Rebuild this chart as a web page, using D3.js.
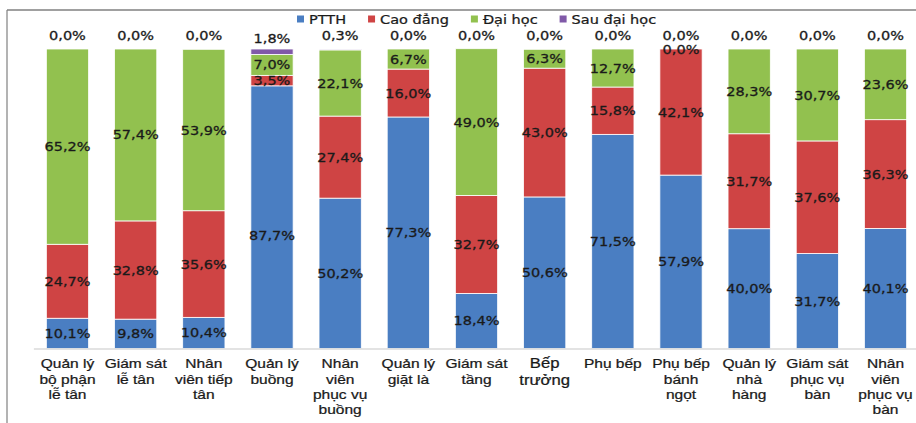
<!DOCTYPE html>
<html>
<head>
<meta charset="utf-8">
<script src="https://cdn.jsdelivr.net/npm/d3@7"></script>
<style>
  html, body { margin: 0; padding: 0; background: #fff; }
  svg { display: block; font-family: "DejaVu Sans", Verdana, sans-serif; }
</style>
</head>
<body>
<svg id="chart" width="916" height="423"></svg>
<script>
// Trình độ học vấn theo vị trí công việc (%)
const categories = [
  "Quản lý\nbộ phận\nlễ tân",
  "Giám sát\nlễ tân",
  "Nhân\nviên tiếp\ntân",
  "Quản lý\nbuồng",
  "Nhân\nviên\nphục vụ\nbuồng",
  "Quản lý\ngiặt là",
  "Giám sát\ntầng",
  "Bếp\ntrưởng",
  "Phụ bếp",
  "Phụ bếp\nbánh\nngọt",
  "Quản lý\nnhà\nhàng",
  "Giám sát\nphục vụ\nbàn",
  "Nhân\nviên\nphục vụ\nbàn"
];
const seriesNames = ["PTTH", "Cao đẳng", "Đại học", "Sau đại học"];
const ptth      = [10.1, 9.8, 10.4, 87.7, 50.2, 77.3, 18.4, 50.6, 71.5, 57.9, 40.0, 31.7, 40.1];
const caoDang   = [24.7, 32.8, 35.6, 3.5, 27.4, 16.0, 32.7, 43.0, 15.8, 42.1, 31.7, 37.6, 36.3];
const daiHoc    = [65.2, 57.4, 53.9, 7.0, 22.1, 6.7, 49.0, 6.3, 12.7, 0.0, 28.3, 30.7, 23.6];
const sauDaiHoc = [0.0, 0.0, 0.0, 1.8, 0.3, 0.0, 0.0, 0.0, 0.0, 0.0, 0.0, 0.0, 0.0];

const colors = ["#4a7ec2", "#cf4444", "#92c14f", "#8059a8"];
const fmt = v => v.toFixed(1).replace(".", ",") + "%";
const SX = 1.15; // horizontal stretch applied to all text
const ink = "#1a1a1a";

const rows = categories.map((c, i) => ({
  cat: c,
  "PTTH": ptth[i],
  "Cao đẳng": caoDang[i],
  "Đại học": daiHoc[i],
  "Sau đại học": sauDaiHoc[i]
}));
const stacked = d3.stack().keys(seriesNames)(rows);

const svg = d3.select("#chart");

// chart-area frame (top and left edges)
svg.append("line").attr("x1", 7).attr("x2", 916).attr("y1", 10).attr("y2", 10)
  .attr("stroke", "#808080").attr("stroke-width", 1.5);
svg.append("line").attr("x1", 7).attr("x2", 7).attr("y1", 10).attr("y2", 423)
  .attr("stroke", "#808080").attr("stroke-width", 1.2);

const x = d3.scaleBand().domain(categories).range([33.4, 919.6])
  .paddingInner(0.38).paddingOuter(0.19);
const y = d3.scaleLinear().domain([0, 100]).range([348.5, 49]);

// bars
const layers = svg.append("g").selectAll("g").data(stacked).join("g")
  .attr("fill", (d, i) => colors[i]);
layers.selectAll("rect").data(d => d).join("rect")
  .attr("x", d => x(d.data.cat))
  .attr("width", x.bandwidth())
  .attr("y", d => y(d[1]))
  .attr("height", d => Math.max(0, y(d[0]) - y(d[1])))
  .attr("stroke", "#fff").attr("stroke-width", 0.8);

// value labels (the tall PTTH label of "Quản lý buồng" sits lower in its bar)
const labelNudge = { "Quản lý\nbuồng|PTTH": 18 };
stacked.forEach((layer, si) => {
  const outside = si === seriesNames.length - 1;
  layer.forEach(d => {
    const cx = x(d.data.cat) + x.bandwidth() / 2;
    const cy = (y(d[0]) + y(d[1])) / 2 - (outside ? 13.5 : 0)
      + (labelNudge[d.data.cat + "|" + layer.key] || 0);
    svg.append("g").attr("transform", `translate(${cx},${cy}) scale(${SX},1)`)
      .append("text")
      .attr("text-anchor", "middle").attr("dy", "0.36em")
      .attr("font-size", 12.6).attr("fill", ink)
      .attr("stroke", ink).attr("stroke-width", 0.3)
      .text(fmt(d.data[layer.key]));
  });
});

// category axis
const axis = svg.append("g").attr("transform", `translate(0,${y(0)})`)
  .call(d3.axisBottom(x).tickSize(0).tickFormat(""));
axis.select(".domain").attr("stroke", "#c8c8c8").attr("stroke-width", 1.2);
axis.selectAll(".tick").each(function (c) {
  const big = c === "Bếp\ntrưởng";
  const t = d3.select(this).append("text")
    .attr("text-anchor", "middle")
    .attr("transform", `scale(${SX},1)`)
    .attr("font-size", big ? 14.5 : 13.5)
    .attr("fill", ink)
    .attr("stroke", ink).attr("stroke-width", 0.25);
  const step = big ? 16.5 : 15.3;
  c.split("\n").forEach((line, k) => {
    t.append("tspan").attr("x", 0).attr("y", 20 + k * step).text(line);
  });
});

// legend
const legend = svg.append("g").attr("transform", "translate(297,19)");
let lx = 0;
seriesNames.forEach((name, i) => {
  legend.append("rect").attr("x", lx).attr("y", -3.5).attr("width", 7).attr("height", 7)
    .attr("fill", colors[i]);
  const g = legend.append("g").attr("transform", `translate(${lx + 12},0) scale(${SX},1)`);
  const t = g.append("text").attr("dy", "0.36em").attr("font-size", 12.6)
    .attr("fill", ink).attr("stroke", ink).attr("stroke-width", 0.25).text(name);
  lx += 12 + t.node().getComputedTextLength() * SX + 22;
});
</script>
</body>
</html>
